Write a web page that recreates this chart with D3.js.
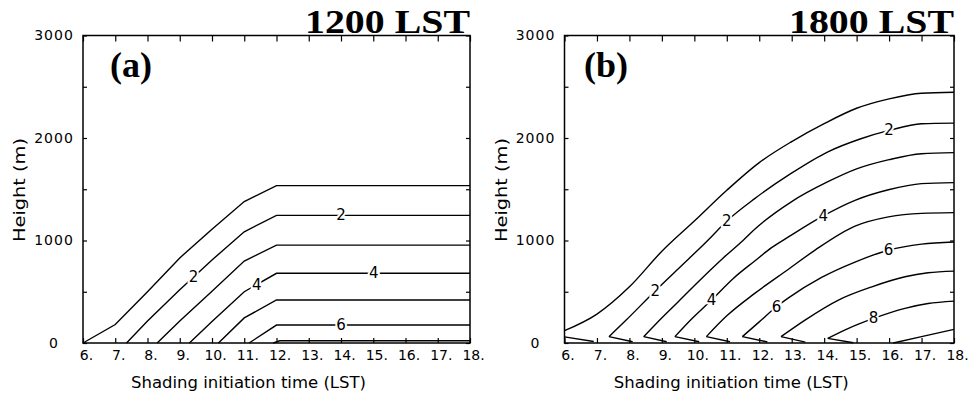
<!DOCTYPE html>
<html>
<head>
<meta charset="utf-8">
<script src="https://cdn.jsdelivr.net/npm/d3@7"></script>
<style>
  html, body { margin: 0; padding: 0; background: #fff; }
  svg { display: block; }
  .tick-label { font-family: "DejaVu Sans", sans-serif; font-size: 14px; fill: #000; }
  .y-label { letter-spacing: 1px; }
  .axis-title { font-family: "DejaVu Sans", sans-serif; font-size: 16px; fill: #000; }
  .panel-title { font-family: "Liberation Serif", serif; font-weight: bold; font-size: 34px; fill: #000; }
  .panel-tag { font-family: "Liberation Serif", serif; font-weight: bold; font-size: 36px; fill: #000; }
  .clabel { font-family: "DejaVu Sans", sans-serif; font-size: 15px; fill: #000;
            stroke: #fff; stroke-width: 4px; paint-order: stroke; }
</style>
</head>
<body>
<svg id="chart" width="968" height="395"></svg>
<script>
// --- 1. DATA ---
const hourTicks = [6, 7, 8, 9, 10, 11, 12, 13, 14, 15, 16, 17, 18];
const heightTicks = [0, 500, 1000, 1500, 2000, 2500, 3000];
const heightLabels = [0, 1000, 2000, 3000];

// panel (a) 1200 LST: contour lines as [hour, height m]
const contoursA = [
    [[6, 0], [7, 180], [8, 500], [9, 830], [10, 1110], [11, 1380], [12, 1535], [18, 1535]],
    [[7.35, 0], [8, 215], [9, 520], [10, 810], [11, 1085], [12, 1245], [18, 1245]],
    [[8.3, 0], [9, 215], [10, 505], [11, 800], [12, 955], [18, 955]],
    [[9.3, 0], [10, 210], [11, 500], [12, 680], [18, 680]],
    [[10.2, 0], [11, 245], [12, 420], [18, 420]],
    [[11.15, 0], [12, 175], [18, 175]],
    [[11.9, 0], [12.1, 22], [18, 22]]
];
const labelsA = [
    [9.43, 645, "2"], [14.0, 1245, "2"],
    [11.39, 570, "4"], [15.02, 680, "4"],
    [14.0, 175, "6"]
];

// panel (b) 1800 LST: upper branches start at the tip of each wedge
const contoursB = [
    [[6, 120], [7, 282], [8, 548], [9, 895], [10, 1190], [11, 1490], [12, 1760], [13, 1965], [14, 2140], [15, 2290], [16, 2382], [17, 2437], [18, 2447]],
    [[7.37, 62], [7.9, 224], [8.8, 510], [9.5, 723], [10.42, 1003], [11, 1190], [11.86, 1409], [12.97, 1652], [14.1, 1863], [15.13, 1993], [16, 2074], [17, 2139], [18, 2145]],
    [[8.44, 62], [8.83, 191], [9.45, 386], [10.17, 613], [10.89, 830], [11.5, 1000], [11.86, 1110], [13, 1380], [14.1, 1571], [15.02, 1701], [16, 1789], [17, 1847], [18, 1857]],
    [[9.4, 62], [9.9, 230], [10.53, 419], [11.2, 630], [11.86, 800], [12.38, 930], [12.9, 1035], [13.97, 1240], [14.95, 1392], [15.98, 1495], [17, 1555], [18, 1565]],
    [[10.37, 62], [11, 265], [11.86, 484], [12.9, 720], [13.72, 906], [14.95, 1140], [15.98, 1230], [17, 1265], [18, 1272]],
    [[11.48, 62], [12, 206], [12.53, 353], [12.9, 440], [13.92, 640], [14.95, 790], [15.98, 905], [17, 965], [18, 986]],
    [[12.67, 62], [13.41, 224], [14.44, 419], [15.47, 548], [16.49, 646], [17.2, 685], [18, 701]],
    [[14.11, 45], [14.75, 143], [15.52, 240], [16.49, 338], [17.2, 385], [18, 409]],
    [[16.13, 0], [17, 62], [18, 133]]
];
// thin lower branches of the wedges near the ground
const lowerB = [
    [[6, 60], [6.9, 15]],
    [[7.37, 62], [8.1, 12]],
    [[8.44, 62], [9.15, 12]],
    [[9.4, 62], [10.15, 12]],
    [[10.37, 62], [11.1, 12]],
    [[11.48, 62], [12.25, 10]],
    [[12.67, 62], [13.42, 8]],
    [[14.11, 45], [14.9, 2]]
];
const labelsB = [
    [8.8, 510, "2"], [11.0, 1190, "2"], [16.0, 2074, "2"],
    [10.53, 419, "4"], [13.97, 1240, "4"],
    [12.53, 353, "6"], [15.98, 905, "6"],
    [15.52, 240, "8"]
];

// --- 2. LAYOUT ---
const panels = [
    { left: 83, right: 470, title: "1200 LST", tag: "(a)", tagX: 110, contours: contoursA, lower: [], labels: labelsA, curve: d3.curveLinear },
    { left: 564.5, right: 954, title: "1800 LST", tag: "(b)", tagX: 584, contours: contoursB, lower: lowerB, labels: labelsB, curve: d3.curveMonotoneX }
];
const plotTop = 35.5, plotBottom = 343;

const svg = d3.select("#chart");
svg.append("rect").attr("width", 968).attr("height", 395).attr("fill", "#fff");

// --- 3. DRAW PANELS ---
panels.forEach(p => {
    const x = d3.scaleLinear().domain([6, 18]).range([p.left, p.right]);
    const y = d3.scaleLinear().domain([0, 3000]).range([plotBottom, plotTop]);
    const g = svg.append("g");

    // contours
    const line = d3.line().x(d => x(d[0])).y(d => y(d[1]));
    p.contours.forEach(c => {
        g.append("path").datum(c).attr("fill", "none").attr("stroke", "#000")
            .attr("stroke-width", 1.4).attr("d", line.curve(p.curve));
    });
    p.lower.forEach(c => {
        g.append("path").datum(c).attr("fill", "none").attr("stroke", "#000")
            .attr("stroke-width", 1.4).attr("d", line.curve(d3.curveLinear));
    });

    // contour labels
    g.selectAll(".clabel").data(p.labels).enter().append("text")
        .attr("class", "clabel")
        .attr("x", d => x(d[0])).attr("y", d => y(d[1]))
        .attr("text-anchor", "middle").attr("dominant-baseline", "central")
        .text(d => d[2]);

    // axes (ticks point inward)
    const ax = g.append("g").attr("transform", `translate(0,${plotBottom})`)
        .call(d3.axisBottom(x).tickValues(hourTicks).tickSizeInner(-5).tickSizeOuter(0)
            .tickPadding(7).tickFormat(d => d + "."));
    ax.selectAll("text").attr("class", "tick-label").attr("dx", 3);
    g.append("g").attr("transform", `translate(0,${plotTop})`)
        .call(d3.axisTop(x).tickValues(hourTicks).tickSizeInner(-6).tickSizeOuter(0).tickFormat(""));
    const ay = g.append("g").attr("transform", `translate(${p.left},0)`)
        .call(d3.axisLeft(y).tickValues(heightTicks).tickSizeInner(-4).tickSizeOuter(0)
            .tickFormat(d => heightLabels.includes(d) ? d : ""));
    ay.selectAll("text").attr("class", "tick-label y-label").attr("text-anchor", "middle").attr("x", -29);
    g.append("g").attr("transform", `translate(${p.right},0)`)
        .call(d3.axisRight(y).tickValues(heightTicks).tickSizeInner(-4).tickSizeOuter(0).tickFormat(""));
    g.selectAll(".domain").remove();
    g.selectAll(".tick line").attr("stroke", "#000").attr("stroke-width", 1.2);

    // frame
    g.append("rect").attr("x", p.left).attr("y", plotTop)
        .attr("width", p.right - p.left).attr("height", plotBottom - plotTop)
        .attr("fill", "none").attr("stroke", "#000").attr("stroke-width", 1.5);

    // titles
    const mid = (p.left + p.right) / 2;
    g.append("text").attr("class", "axis-title")
        .attr("x", mid - 28).attr("y", 388).attr("text-anchor", "middle")
        .attr("textLength", 235).attr("lengthAdjust", "spacingAndGlyphs")
        .text("Shading initiation time (LST)");
    g.append("text").attr("class", "axis-title")
        .attr("transform", `translate(${p.left - 58},190) rotate(-90)`)
        .attr("text-anchor", "middle")
        .attr("textLength", 104).attr("lengthAdjust", "spacingAndGlyphs")
        .text("Height (m)");
    g.append("text").attr("class", "panel-title")
        .attr("x", p.right).attr("y", 33).attr("text-anchor", "end")
        .attr("textLength", 165).attr("lengthAdjust", "spacingAndGlyphs")
        .text(p.title);
    g.append("text").attr("class", "panel-tag")
        .attr("x", p.tagX).attr("y", 77)
        .text(p.tag);
});
</script>
</body>
</html>
